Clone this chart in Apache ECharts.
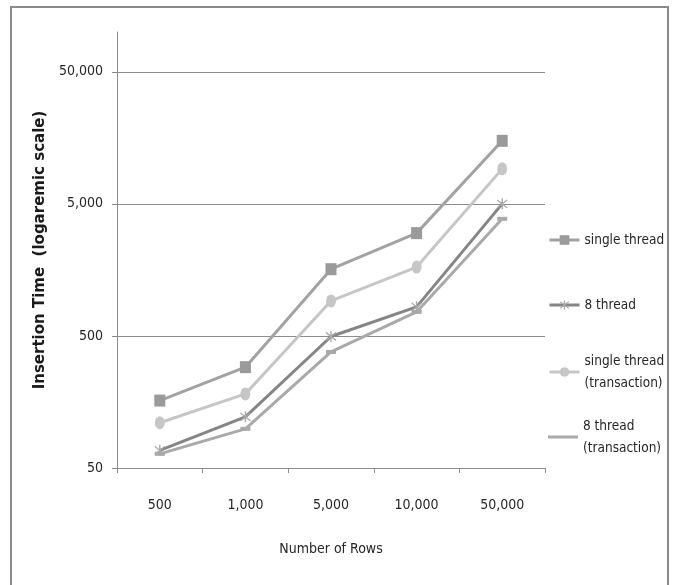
<!DOCTYPE html>
<html>
<head>
<meta charset="utf-8">
<script src="https://cdn.jsdelivr.net/npm/echarts@6/dist/echarts.min.js"></script>
<style>
  html, body { margin: 0; padding: 0; background: #ffffff; }
  #chart { width: 676px; height: 585px; }
</style>
</head>
<body>
<div id="chart"></div>
<script>
// Row counts along the x axis
const rowCounts = ['500', '1,000', '5,000', '10,000', '50,000'];

// Insertion times for each configuration
const singleThread = [162, 290, 1600, 3000, 15000];
const eightThread = [68, 122, 495, 830, 5000];
const singleThreadTx = [110, 182, 920, 1660, 9200];
const eightThreadTx = [64, 99, 378, 760, 3850];

// Labelled positions on the logarithmic value axis
const yTicks = [50, 500, 5000, 50000];

const FONT = "'DejaVu Sans Condensed', Roboto, sans-serif";
const TEXT = '#262626';
const GRID = '#8c8c8c';

// Asterisk marker built from three thin bars
const asterisk = 'path://M-1,-10L1,-10L1,10L-1,10Z' +
  'M-8,-6.5L-6.5,-8L8,6.5L6.5,8Z' +
  'M6.5,-8L8,-6.5L-6.5,8L-8,6.5Z';

const chart = echarts.init(document.getElementById('chart'), null, { renderer: 'canvas' });

function legendFor(name, top, twoLine, plainLine) {
  const item = plainLine ? { name: name, icon: 'rect' } : name;
  return {
    data: [item],
    left: 548,
    top: top,
    orient: 'vertical',
    padding: 0,
    itemWidth: 30,
    itemHeight: plainLine ? 3 : 12,
    itemGap: 0,
    selectedMode: false,
    lineStyle: { width: 3 },
    textStyle: {
      fontFamily: FONT,
      fontSize: 13.5,
      color: TEXT,
      lineHeight: 22,
      padding: twoLine ? [22, 0, 0, 0] : 0
    }
  };
}

chart.setOption({
  animation: false,
  backgroundColor: '#ffffff',
  graphic: [{
    type: 'rect',
    shape: { x: 11, y: 7, width: 657, height: 600 },
    style: { fill: 'none', stroke: '#8a8a8a', lineWidth: 2 },
    silent: true
  }],
  grid: { left: 117, right: 131, top: 32, bottom: 117, containLabel: false },
  legend: [
    legendFor('single thread', 229, false, false),
    legendFor('8 thread', 294, false, false),
    legendFor('single thread\n(transaction)', 339, true, false),
    legendFor('8 thread\n(transaction)', 404, true, true)
  ],
  xAxis: {
    type: 'category',
    data: rowCounts,
    boundaryGap: true,
    name: 'Number of Rows',
    nameLocation: 'middle',
    nameGap: 74,
    nameTextStyle: { fontFamily: FONT, fontSize: 14, color: TEXT },
    axisLine: { lineStyle: { color: GRID, width: 1 } },
    axisTick: { show: true, length: 5, lineStyle: { color: GRID } },
    axisLabel: { fontFamily: FONT, fontSize: 14, color: TEXT, margin: 30 },
    splitLine: { show: false }
  },
  yAxis: {
    type: 'log',
    logBase: 10,
    min: 50,
    max: 100000,
    name: 'Insertion Time  (logaremic scale)',
    nameLocation: 'middle',
    nameGap: 67,
    nameRotate: 90,
    nameTextStyle: { fontFamily: "'DejaVu Sans', sans-serif", fontWeight: 'bold', fontSize: 15, color: '#1a1a1a' },
    axisLine: { show: true, lineStyle: { color: GRID, width: 1 } },
    axisTick: { show: true, length: 5, lineStyle: { color: GRID }, customValues: yTicks },
    axisLabel: {
      fontFamily: FONT, fontSize: 14, color: TEXT, margin: 14,
      customValues: yTicks,
      formatter: v => Number(v).toLocaleString('en-US')
    },
    splitLine: { show: true, lineStyle: { color: GRID, width: 1 } }
  },
  series: [
    {
      name: 'single thread', type: 'line', data: singleThread,
      symbol: 'rect', symbolSize: [11, 12],
      lineStyle: { color: '#a2a2a2', width: 3 },
      itemStyle: { color: '#9a9a9a' }
    },
    {
      name: 'single thread\n(transaction)', type: 'line', data: singleThreadTx,
      symbol: 'circle', symbolSize: [10, 13],
      lineStyle: { color: '#c6c6c6', width: 3 },
      itemStyle: { color: '#c6c6c6' }
    },
    {
      name: '8 thread\n(transaction)', type: 'line', data: eightThreadTx,
      symbol: 'rect', symbolSize: [10, 4],
      lineStyle: { color: '#a9a9a9', width: 3 },
      itemStyle: { color: '#a9a9a9' }
    },
    {
      name: '8 thread', type: 'line', data: eightThread,
      symbol: asterisk, symbolSize: 11,
      lineStyle: { color: '#858585', width: 3 },
      itemStyle: { color: '#a8a8a8' }
    }
  ]
});
</script>
</body>
</html>
